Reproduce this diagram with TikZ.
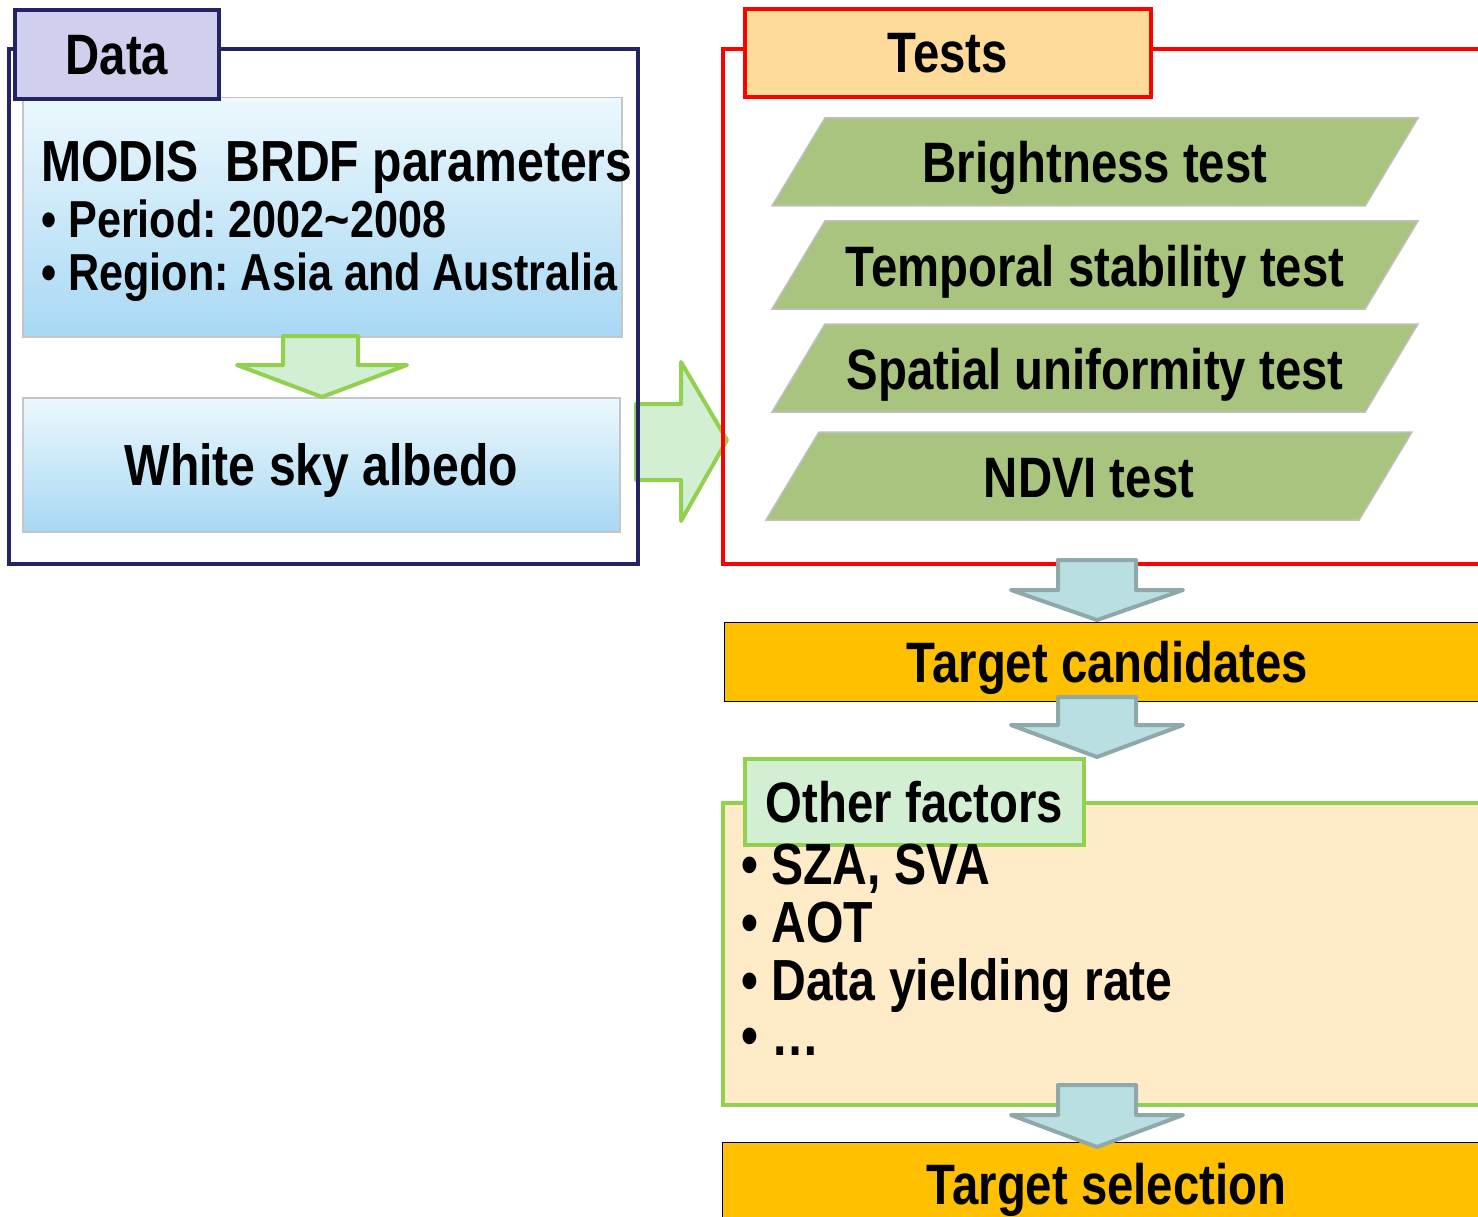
\documentclass[tikz,border=0pt]{standalone}
\usepackage{fontspec}
\setmainfont{Liberation Sans}[FakeStretch=0.83]
\usetikzlibrary{positioning,shapes.geometric}

\definecolor{navy}{RGB}{35,35,102}
\definecolor{lavender}{RGB}{208,208,238}
\definecolor{skyblue}{RGB}{168,216,244}
\definecolor{palesky}{RGB}{236,248,253}
\definecolor{tabgold}{RGB}{255,219,153}
\definecolor{testgreen}{RGB}{169,196,127}
\definecolor{leafgreen}{RGB}{146,208,80}
\definecolor{mint}{RGB}{211,239,211}
\definecolor{tealfill}{RGB}{185,223,227}
\definecolor{tealedge}{RGB}{143,169,170}
\definecolor{gold}{RGB}{255,192,0}
\definecolor{cream}{RGB}{255,235,200}

\frenchspacing
\newcommand\pxfont[1]{\fontsize{#1pt}{#1pt}\selectfont\bfseries}
% block arrow pointing down: x centre, top, neck, tip
\newcommand\blockdown[4]{%
  \draw[tealarrow] (#1-39,#2) -- (#1+39,#2) -- (#1+39,#3) -- (#1+86,#3)
    -- (#1,#4) -- (#1-86,#3) -- (#1-39,#3) -- cycle;}

\begin{document}
\begin{tikzpicture}[
    x=1pt, y=-1pt,
    frame/.style={rectangle, anchor=north west, inner sep=0pt, line width=4pt},
    tab/.style={rectangle, anchor=north west, inner sep=0pt, line width=4pt,
        font=\pxfont{57}, text depth=0pt},
    glossy/.style={rectangle, anchor=north west, inner sep=0pt,
        draw=gray!45, line width=1.5pt, top color=palesky, bottom color=skyblue},
    testbox/.style={trapezium, trapezium left angle=59, trapezium right angle=121,
        trapezium stretches body, minimum width=646pt, text height=42pt,
        text depth=0pt, inner xsep=0pt, inner ysep=23pt, outer sep=0pt,
        fill=testgreen, draw=gray!50, line width=1.5pt, font=\pxfont{57}},
    goldbox/.style={rectangle, anchor=north west, inner sep=0pt, fill=gold,
        draw=black, line width=1.2pt, font=\pxfont{57}, text depth=0pt},
    greenarrow/.style={fill=mint, draw=leafgreen, line width=4pt, line join=round},
    tealarrow/.style={fill=tealfill, draw=tealedge, line width=4pt, line join=round},
    item/.style={anchor=base west, inner sep=0pt, font=\pxfont{52}},
]
\useasboundingbox (0,0) rectangle (1478,1217);
\clip (0,0) rectangle (1478,1217);

% Data part
\draw[greenarrow] (636,404) -- (681,404) -- (681,362) -- (727,440)
    -- (681,521) -- (681,480) -- (636,480) -- cycle;
\node[frame, draw=navy, minimum width=629pt, minimum height=515pt] (datafr) at (7,47) {};
\node[glossy, minimum width=599pt, minimum height=239pt] (modis) at (22,97) {};
\node[anchor=base west, inner sep=0pt, font=\pxfont{58}] (modistitle) at (41,182) {MODIS\ \ BRDF parameters};
\node[item] (period) at (41,238) {• Period: 2002\textasciitilde2008};
\node[item] (region) at (41,290) {• Region: Asia and Australia};
\node[glossy, minimum width=597pt, minimum height=134pt, font=\pxfont{58},
    text depth=0pt] (albedo) at (22,397) {White sky albedo};
\draw[greenarrow] (283,336) -- (358,336) -- (358,365) -- (407,365)
    -- (322,397) -- (237,365) -- (283,365) -- cycle;
\node[tab, draw=navy, fill=lavender, minimum width=204pt, minimum height=89pt] (datatab) at (13,8) {Data};

% Tests part
\node[frame, draw=red, minimum width=769pt, minimum height=515pt] (testfr) at (721,47) {};
\node[tab, draw=red, fill=tabgold, minimum width=406pt, minimum height=88pt] (testtab) at (743,7) {Tests};
\node[testbox] (bright)   at (1095,162) {Brightness test};
\node[testbox] (temporal) at (1095,265) {Temporal stability test};
\node[testbox] (spatial)  at (1095,368) {Spatial uniformity test};
\node[testbox] (ndvi)     at (1089,476) {NDVI test};

% Candidates and other factors
\node[goldbox, minimum width=766pt, minimum height=79pt] (cand) at (724,622) {Target candidates};
\node[frame, draw=leafgreen, fill=cream, minimum width=769pt, minimum height=302pt] (otherfr) at (721,801) {};
\node[tab, draw=leafgreen, fill=mint, minimum width=339pt, minimum height=86pt] (othertab) at (743,757) {Other factors};
\node[item, font=\pxfont{58}] (sza)   at (741,884)  {• SZA, SVA};
\node[item, font=\pxfont{58}] (aot)   at (741,942)  {• AOT};
\node[item, font=\pxfont{58}] (yield) at (741,1000) {• Data yielding rate};
\node[item, font=\pxfont{58}] (more)  at (741,1055) {• …};
\node[goldbox, minimum width=768pt, minimum height=82pt] (select) at (722,1142) {Target selection};

% Flow arrows
\blockdown{1097}{560}{590}{620}
\blockdown{1097}{697}{725}{757}
\blockdown{1097}{1085}{1115}{1147}

\end{tikzpicture}
\end{document}
